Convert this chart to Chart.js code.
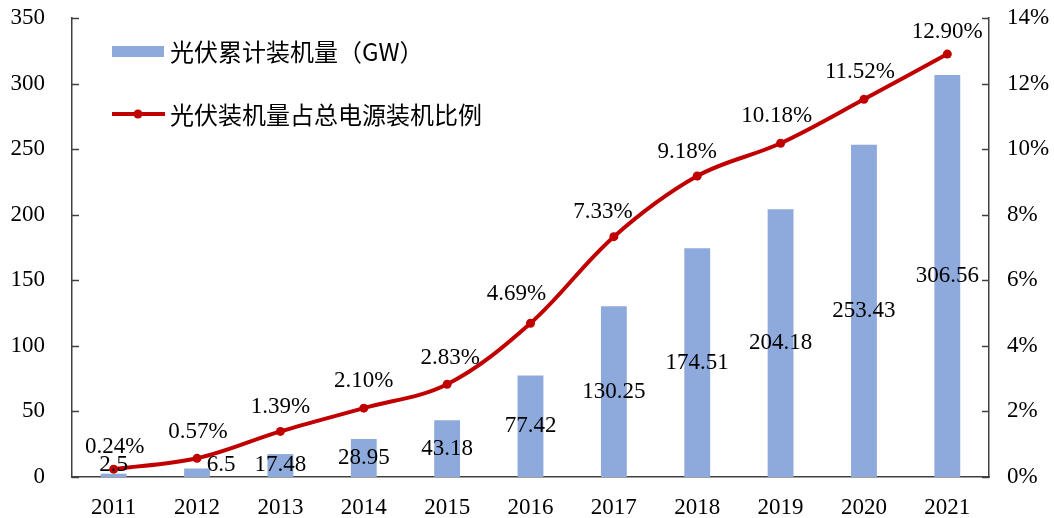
<!DOCTYPE html>
<html>
<head>
<meta charset="utf-8">
<script src="https://cdn.jsdelivr.net/npm/chart.js@4/dist/chart.umd.min.js"></script>
<style>
	html, body { margin: 0; padding: 0; background: #fff; }
	#pvChart { display: block; }
</style>
</head>
<body>
<canvas id="pvChart" width="1054" height="518"></canvas>
<script>
const years = ["2011", "2012", "2013", "2014", "2015", "2016", "2017", "2018", "2019", "2020", "2021"];
const capacity = [2.5, 6.5, 17.48, 28.95, 43.18, 77.42, 130.25, 174.51, 204.18, 253.43, 306.56];
const capacityText = ["2.5", "6.5", "17.48", "28.95", "43.18", "77.42", "130.25", "174.51", "204.18", "253.43", "306.56"];
const share = [0.24, 0.57, 1.39, 2.10, 2.83, 4.69, 7.33, 9.18, 10.18, 11.52, 12.90];
const legendNames = ["光伏累计装机量（GW）", "光伏装机量占总电源装机比例"];

const numFont = "23px 'Liberation Serif', 'Times New Roman', serif";
const axisColor = "#404040";

// axis ticks pointing into the plot, value labels, and the legend
const extras = {
	id: "extras",
	afterDraw(chart) {
		const ctx = chart.ctx;
		const area = chart.chartArea;
		const yL = chart.scales.y;
		const yR = chart.scales.y1;
		ctx.save();
		ctx.strokeStyle = axisColor;
		ctx.lineWidth = 1.5;
		yL.ticks.forEach(function (t) {
			const py = Math.round(yL.getPixelForValue(t.value)) + 0.5;
			ctx.beginPath();
			ctx.moveTo(area.left, py);
			ctx.lineTo(area.left + 7, py);
			ctx.stroke();
		});
		yR.ticks.forEach(function (t) {
			const py = Math.round(yR.getPixelForValue(t.value)) + 0.5;
			ctx.beginPath();
			ctx.moveTo(area.right - 7, py);
			ctx.lineTo(area.right, py);
			ctx.stroke();
		});

		ctx.font = numFont;
		ctx.fillStyle = "#000";
		ctx.textAlign = "center";
		ctx.textBaseline = "middle";
		// bar labels sit in the middle of each bar
		const bars = chart.getDatasetMeta(0).data;
		bars.forEach(function (bar, i) {
			let py = (bar.y + bar.base) / 2;
			if (py > area.bottom - 12) py = area.bottom - 12;
			let px = bar.x;
			if (i === 1) px += 24;
			ctx.fillText(capacityText[i], px, py);
		});
		// line labels above each point, nudged like the original
		const nudgeX = [1, 1, 0, 0, 3, -14, -11, -10, -4, -4, 0];
		const nudgeY = [-22, -26, -24, -27, -26, -29, -25, -24, -27, -27, -22];
		const pts = chart.getDatasetMeta(1).data;
		pts.forEach(function (p, i) {
			ctx.fillText(share[i].toFixed(2) + "%", p.x + nudgeX[i], p.y + nudgeY[i]);
		});

		// legend
		const lx = 112;
		ctx.fillStyle = chart.data.datasets[0].backgroundColor;
		ctx.fillRect(lx, 46, 52, 11);
		ctx.strokeStyle = chart.data.datasets[1].borderColor;
		ctx.lineWidth = 4;
		ctx.beginPath();
		ctx.moveTo(lx, 114);
		ctx.lineTo(lx + 53, 114);
		ctx.stroke();
		ctx.fillStyle = chart.data.datasets[1].borderColor;
		ctx.beginPath();
		ctx.arc(lx + 26, 114, 4.5, 0, Math.PI * 2);
		ctx.fill();
		ctx.fillStyle = "#000";
		ctx.textAlign = "left";
		ctx.font = "24px 'Noto Sans CJK SC', 'Liberation Serif', serif";
		ctx.fillText(legendNames[0], 170, 52);
		ctx.fillText(legendNames[1], 170, 115);
		ctx.restore();
	},
};

function noPad(s) {
	s.paddingTop = 0;
	s.paddingBottom = 0;
}

const ctx = document.getElementById("pvChart").getContext("2d");
const myChart = new Chart(ctx, {
	data: {
		labels: years,
		datasets: [
			{
				type: "bar",
				label: legendNames[0],
				data: capacity,
				backgroundColor: "#8EA9DB",
				barPercentage: 0.31,
				categoryPercentage: 1,
				yAxisID: "y",
				order: 2,
			},
			{
				type: "line",
				label: legendNames[1],
				data: share,
				borderColor: "#C00000",
				backgroundColor: "#C00000",
				borderWidth: 4,
				pointRadius: 4.5,
				pointBackgroundColor: "#C00000",
				pointBorderWidth: 0,
				tension: 0.35,
				yAxisID: "y1",
				order: 1,
			},
		],
	},
	plugins: [extras],
	options: {
		responsive: false,
		animation: false,
		devicePixelRatio: 1,
		layout: { padding: { top: 18, right: 0, left: 0, bottom: 0 } },
		plugins: {
			legend: { display: false },
			tooltip: { enabled: false },
		},
		scales: {
			x: {
				grid: { display: false, drawTicks: false },
				border: { display: true, color: axisColor, width: 1.5 },
				ticks: { color: "#000", font: { family: "'Liberation Serif', serif", size: 23 }, padding: 17, maxRotation: 0, autoSkip: false },
				afterFit: function (s) { s.height = 41; s.paddingLeft = 0; s.paddingRight = 0; },
			},
			y: {
				position: "left",
				min: 0,
				max: 350,
				grid: { display: false, drawTicks: false },
				border: { display: true, color: axisColor, width: 1.5 },
				ticks: { stepSize: 50, color: "#000", font: { family: "'Liberation Serif', serif", size: 23 }, padding: 27 },
				afterFit: function (s) { s.width = 72; noPad(s); },
			},
			y1: {
				position: "right",
				min: 0,
				max: 14,
				grid: { display: false, drawTicks: false },
				border: { display: true, color: axisColor, width: 1.5 },
				ticks: {
					stepSize: 2,
					color: "#000",
					font: { family: "'Liberation Serif', serif", size: 23 },
					padding: 18,
					callback: function (v) { return v + "%"; },
				},
				afterFit: function (s) { s.width = 65; noPad(s); },
			},
		},
	},
});
</script>
</body>
</html>
